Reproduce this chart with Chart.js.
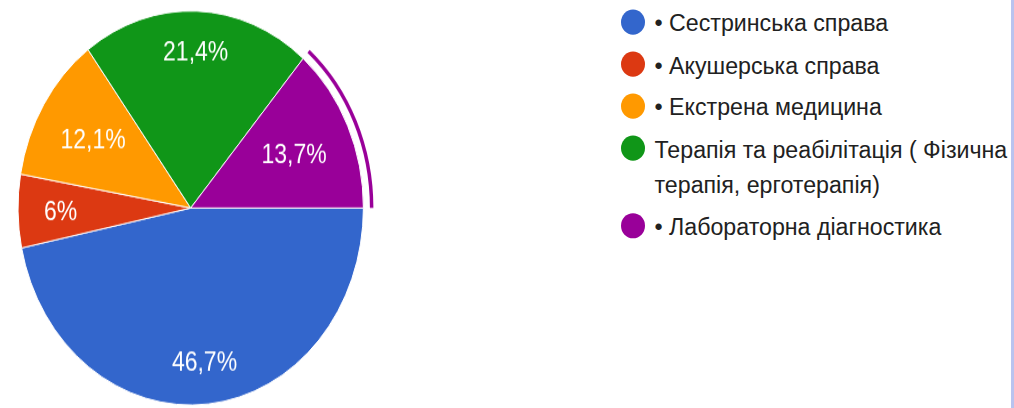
<!DOCTYPE html>
<html><head><meta charset="utf-8">
<script src="https://cdn.jsdelivr.net/npm/chart.js@4.4.1/dist/chart.umd.min.js"></script>
<style>
html,body{margin:0;padding:0;background:#fff;width:1014px;height:408px;overflow:hidden;position:relative;font-family:"Liberation Sans",Arial,sans-serif;}
#pieWrap{position:absolute;left:0;top:0;width:400px;height:370px;transform-origin:0 0;transform:scaleY(1.1407);}
#pieWrap canvas{display:block;}
#legend{position:absolute;left:620.5px;top:0;padding-top:5px;transform-origin:0 0;transform:scaleY(1.05);}
.item{display:flex;align-items:flex-start;margin-bottom:6px;}
.dot{width:24px;height:24px;border-radius:50%;margin-top:4px;flex:none;}
.txt{margin-left:10px;font-size:23.2px;line-height:34px;color:#212121;white-space:nowrap;}
#bar{position:absolute;left:1011px;top:0;width:3px;height:408px;background:#b9c3ef;}
</style></head>
<body>
<div id="pieWrap"><canvas id="c" width="400" height="370"></canvas></div>
<div id="legend"></div>
<div id="bar"></div>
<script>
const categories = [
  '• Сестринська справа',
  '• Акушерська справа',
  '• Екстрена медицина',
  ['Терапія та реабілітація ( Фізична', 'терапія, ерготерапія)'],
  '• Лабораторна діагностика'
];
const values = [46.7, 6, 12.1, 21.4, 13.7];
const colors = ['#3366cc', '#dc3912', '#ff9900', '#109618', '#990099'];
const highlighted = 4; // slice shown with hover ring

function fmt(v) { return String(v).replace('.', ',') + '%'; }

// HTML legend built from the arrays
const legend = document.getElementById('legend');
categories.forEach((lab, i) => {
  const item = document.createElement('div');
  item.className = 'item';
  const dot = document.createElement('div');
  dot.className = 'dot';
  dot.style.background = colors[i];
  const txt = document.createElement('div');
  txt.className = 'txt';
  const lines = Array.isArray(lab) ? lab : [lab];
  lines.forEach((l, k) => {
    if (k) txt.appendChild(document.createElement('br'));
    txt.appendChild(document.createTextNode(l));
  });
  item.appendChild(dot);
  item.appendChild(txt);
  legend.appendChild(item);
});

const labelPlugin = {
  id: 'sliceLabels',
  afterDatasetsDraw(chart) {
    const meta = chart.getDatasetMeta(2);
    const ctx = chart.ctx;
    const fs = 23;
    ctx.save();
    ctx.font = fs + 'px "Liberation Sans", Arial, sans-serif';
    ctx.fillStyle = '#ffffff';
    ctx.textAlign = 'center';
    ctx.textBaseline = 'alphabetic';
    meta.data.forEach((arc, i) => {
      const p = arc.getProps(['x', 'y', 'startAngle', 'endAngle', 'outerRadius'], true);
      const mid = (p.startAngle + p.endAngle) / 2;
      const text = fmt(values[i]);
      const w = ctx.measureText(text).width;
      const h = fs * 0.716;
      const e = Math.abs(Math.cos(mid)) * w / 2 + Math.abs(Math.sin(mid)) * h / 2;
      const d = p.outerRadius * 0.85 - e;
      ctx.fillText(text, p.x + Math.cos(mid) * d, p.y + Math.sin(mid) * d + h / 2);
    });
    ctx.restore();
  }
};

new Chart(document.getElementById('c'), {
  type: 'pie',
  data: {
    labels: categories,
    datasets: [
      {
        data: values,
        backgroundColor: colors.map((c, i) => i === highlighted ? c : 'rgba(0,0,0,0)'),
        borderWidth: 0,
        weight: 3.5,
        clip: false
      },
      {
        data: values,
        backgroundColor: 'rgba(0,0,0,0)',
        borderWidth: 0,
        weight: 6.5,
        clip: false
      },
      {
        data: values,
        backgroundColor: colors,
        borderColor: '#ffffff',
        borderWidth: 1,
        weight: 172.7,
        clip: false
      }
    ]
  },
  options: {
    responsive: false,
    animation: false,
    events: [],
    rotation: 90,
    radius: 182.7,
    layout: { padding: { left: 0, right: 18.6, top: 0, bottom: 5.3 } },
    plugins: { legend: { display: false }, tooltip: { enabled: false } }
  },
  plugins: [labelPlugin]
});
</script>
</body></html>
